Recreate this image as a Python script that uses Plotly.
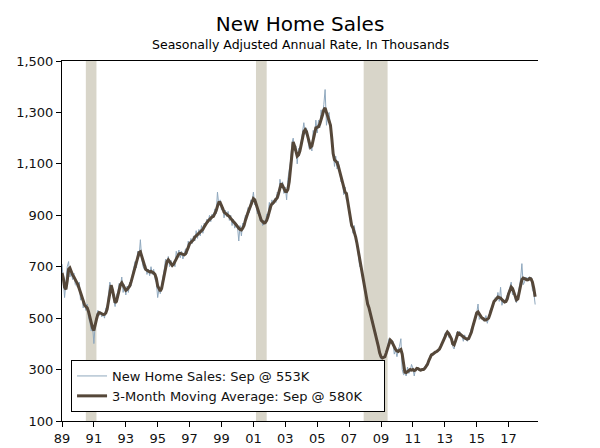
import pandas as pd
import plotly.graph_objects as go

# monthly new home sales, SAAR thousands, Jan 1989 - Sep 2018
sales = [
    710, 640, 580, 640, 700, 720, 660, 680, 650, 675, 630, 625,  # 89
    620, 640, 570, 590, 540, 560, 530, 555, 500, 485, 450, 470,  # 90
    401, 480, 505, 530, 510, 525, 505, 520, 500, 540, 545, 590,  # 91
    640, 620, 590, 560, 545, 590, 600, 635, 625, 660, 600, 630,  # 92
    590, 625, 600, 640, 625, 670, 690, 720, 695, 760, 740, 805,  # 93
    730, 700, 690, 705, 670, 690, 665, 700, 670, 690, 650, 640,  # 94
    580, 615, 595, 640, 660, 690, 730, 715, 740, 700, 725, 700,  # 95
    720, 700, 760, 740, 765, 735, 760, 730, 750, 770, 750, 800,  # 96
    780, 810, 790, 820, 800, 840, 810, 845, 820, 860, 830, 870,  # 97
    860, 885, 870, 900, 875, 905, 890, 925, 905, 990, 940, 960,  # 98
    920, 930, 890, 920, 895, 915, 880, 900, 860, 885, 850, 870,  # 99
    860, 800, 860, 820, 870, 855, 900, 895, 930, 910, 960, 950,  # 00
    990, 940, 955, 905, 920, 880, 890, 860, 880, 865, 905, 900,  # 01
    950, 920, 960, 940, 965, 950, 990, 970, 1040, 1010, 1030, 985,  # 02
    1010, 960, 1040, 1070, 1110, 1180, 1200, 1150, 1170, 1100, 1160, 1150,  # 03
    1190, 1210, 1260, 1215, 1240, 1190, 1160, 1180, 1150, 1230, 1200, 1270,  # 04
    1220, 1270, 1240, 1310, 1280, 1330, 1389, 1250, 1290, 1300, 1220, 1180,  # 05
    1150, 1090, 1130, 1080, 1110, 1060, 1030, 1040, 980, 1010, 960, 960,  # 06
    900, 870, 870, 830, 860, 810, 790, 750, 700, 710, 660, 640,  # 07
    600, 570, 560, 530, 525, 490, 490, 450, 445, 410, 385, 360,  # 08
    340, 350, 345, 355, 370, 390, 420, 410, 400, 410, 360, 375,  # 09
    350, 380, 390, 420, 300, 280, 285, 275, 310, 285, 295, 320,  # 10
    305, 275, 300, 310, 300, 295, 295, 300, 305, 310, 320, 330,  # 11
    335, 355, 360, 355, 370, 365, 375, 370, 385, 385, 400, 405,  # 12
    440, 445, 450, 425, 435, 420, 390, 380, 405, 445, 430, 450,  # 13
    440, 430, 410, 435, 415, 410, 430, 440, 460, 470, 490, 510,  # 14
    520, 555, 495, 505, 500, 490, 490, 510, 480, 500, 530, 540,  # 15
    540, 560, 580, 570, 600, 565, 620, 550, 570, 560, 580, 590,  # 16
    600, 620, 640, 590, 610, 570, 560, 590, 620, 650, 712, 630,  # 17
    640, 660, 650, 660, 650, 660, 610, 600, 553,  # 18
]

# 3-month moving average
ma3 = [
    676, 655, 620, 612, 645, 690, 695, 680, 668, 660, 652, 640,  # 89
    630, 615, 600, 585, 565, 552, 545, 540, 525, 500, 478, 462,  # 90
    452, 470, 495, 515, 522, 520, 516, 514, 515, 520, 535, 565,  # 91
    610, 628, 610, 575, 560, 565, 585, 610, 630, 637, 625, 615,  # 92
    608, 612, 618, 625, 640, 660, 680, 700, 720, 740, 755, 758,  # 93
    740, 720, 700, 690, 686, 684, 680, 682, 680, 676, 670, 655,  # 94
    625, 610, 605, 615, 640, 670, 700, 720, 727, 720, 712, 705,  # 95
    710, 720, 735, 745, 750, 752, 750, 748, 746, 750, 760, 775,  # 96
    790, 795, 800, 805, 815, 820, 824, 828, 832, 838, 845, 855,  # 97
    866, 872, 878, 884, 890, 894, 896, 905, 918, 935, 950, 950,  # 98
    940, 925, 912, 908, 905, 900, 895, 888, 880, 875, 870, 862,  # 99
    855, 850, 845, 843, 850, 860, 880, 900, 912, 925, 940, 955,  # 00
    965, 960, 945, 925, 905, 890, 880, 875, 870, 872, 880, 895,  # 01
    920, 935, 945, 948, 955, 962, 968, 985, 1005, 1024, 1015, 1000,  # 02
    993, 992, 1000, 1030, 1080, 1140, 1185, 1170, 1150, 1130, 1135, 1150,  # 03
    1175, 1200, 1225, 1233, 1225, 1205, 1180, 1165, 1170, 1195, 1225, 1240,  # 04
    1242, 1245, 1255, 1270, 1290, 1310, 1318, 1300, 1285, 1270, 1250, 1200,  # 05
    1140, 1116, 1110, 1105, 1090, 1070, 1045, 1020, 1000, 990, 985, 950,  # 06
    915, 880, 860, 850, 835, 815, 790, 760, 720, 700, 670, 640,  # 07
    610, 580, 555, 540, 520, 500, 480, 460, 440, 415, 390, 365,  # 08
    350, 345, 346, 350, 365, 385, 405, 415, 410, 400, 385, 378,  # 09
    372, 370, 375, 378, 360, 320, 290, 288, 292, 295, 300, 298,  # 10
    300, 296, 298, 305, 304, 300, 298, 300, 300, 305, 312, 320,  # 11
    335, 350, 357, 360, 365, 368, 370, 375, 380, 390, 400, 410,  # 12
    425, 438, 446, 440, 430, 420, 400, 396, 410, 430, 442, 440,  # 13
    435, 430, 425, 423, 420, 418, 420, 430, 445, 465, 485, 505,  # 14
    520, 524, 515, 505, 500, 498, 493, 493, 495, 500, 515, 535,  # 15
    550, 565, 570, 575, 582, 580, 578, 572, 568, 563, 565, 575,  # 16
    595, 612, 621, 615, 600, 580, 571, 575, 595, 625, 650, 656,  # 17
    654, 650, 649, 650, 655, 652, 640, 615, 583,  # 18
]

rec_start = ["1990-07-01", "2001-03-01", "2007-12-01"]
rec_end = ["1991-03-01", "2001-11-01", "2009-06-01"]

tick_years = list(range(1989, 2018, 2))
tick_text = [str(y)[2:] for y in tick_years]
y_ticks = [100, 300, 500, 700, 900, 1100, 1300, 1500]

dates = pd.date_range("1989-01-01", periods=len(sales), freq="MS")
tick_vals = [f"{y}-01-01" for y in tick_years]
x_range = ["1989-01-01", "2018-11-05"]

FONT = "DejaVu Sans"

fig = go.Figure()
for s, e in zip(rec_start, rec_end):
    fig.add_vrect(x0=s, x1=e, fillcolor="#d8d5c9", line_width=0, layer="below")

fig.add_trace(go.Scatter(x=dates, y=sales, mode="lines", name="New Home Sales: Sep @ 553K",
                         line=dict(color="#8fa8be", width=1)))
fig.add_trace(go.Scatter(x=dates, y=ma3, mode="lines",
                         name="3-Month Moving Average: Sep @ 580K&nbsp;&nbsp;&nbsp;&nbsp;",
                         line=dict(color="#554739", width=3)))

tickfont = dict(family=FONT, size=13, color="#111111")
common_y = dict(range=[100, 1500], tickvals=y_ticks, showgrid=False, zeroline=False, ticklen=5,
                tickcolor="black", linecolor="black", tickformat=",", automargin=False)

fig.update_layout(
    width=600, height=448,
    margin=dict(l=62, r=62, t=61, b=27),
    paper_bgcolor="white", plot_bgcolor="white",
    font=dict(family=FONT, color="#111111"),
    title=dict(text="New Home Sales", x=0.5, xanchor="center", y=1 - 24 / 448, yanchor="middle",
               font=dict(family=FONT, size=20, color="black")),
    xaxis=dict(type="date", range=x_range, tickvals=tick_vals, ticktext=tick_text, ticks="outside",
               ticklen=5, tickcolor="black", showline=True, linecolor="black", mirror=True,
               showgrid=False, zeroline=False, tickfont=tickfont, automargin=False),
    xaxis2=dict(type="date", range=x_range, tickvals=tick_vals, ticks="inside", ticklen=5,
                tickcolor="black", showticklabels=False, showline=False, showgrid=False,
                zeroline=False, overlaying="x", anchor="y", automargin=False),
    yaxis=dict(ticks="outside", showline=True, tickfont=tickfont, **common_y),
    yaxis2=dict(ticks="inside", showline=False, showticklabels=False, overlaying="y", anchor="x",
                **common_y),
    yaxis3=dict(ticks="outside", showline=True, side="right", overlaying="y", anchor="x",
                tickfont=tickfont, **common_y),
    yaxis4=dict(ticks="inside", showline=False, showticklabels=False, side="right",
                overlaying="y", anchor="x", **common_y),
    legend=dict(x=0.019, y=0.025, xanchor="left", yanchor="bottom", bgcolor="white",
                bordercolor="black", borderwidth=1, font=dict(family=FONT, size=13, color="#111111"),
                itemwidth=30, tracegroupgap=0),
    showlegend=True,
)

fig.add_annotation(text="Seasonally Adjusted Annual Rate, In Thousands", xref="paper", yref="paper",
                   x=0.5, y=(421 - 45) / 360, xanchor="center", yanchor="middle", showarrow=False,
                   font=dict(family=FONT, size=12.5, color="black"))

# drop the default page margin so the figure sits at the window's top-left corner
fig.write_html("out.html", config={"displayModeBar": False},
               post_script="document.body.style.margin='0';")
